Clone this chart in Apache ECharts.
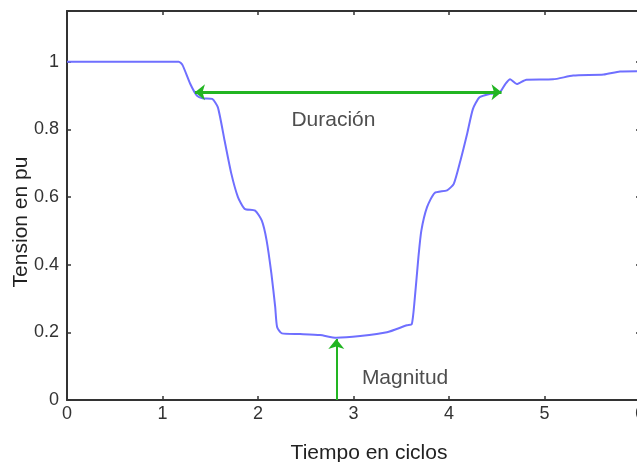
<!DOCTYPE html>
<html>
<head>
<meta charset="utf-8">
<script src="https://cdn.jsdelivr.net/npm/echarts@6/dist/echarts.min.js"></script>
<style>html,body{margin:0;padding:0;background:#fff;overflow:hidden}#c{width:637px;height:462px}</style>
</head>
<body>
<div id="c"></div>
<script>
// Data
const tiempo = [0, 1.17, 1.21, 1.29, 1.36, 1.42, 1.52, 1.58, 1.65, 1.72, 1.79, 1.86, 1.97, 2.04, 2.09, 2.14, 2.18, 2.20, 2.25, 2.44, 2.65, 2.82, 3.07, 3.35, 3.56, 3.61, 3.64, 3.68, 3.71, 3.77, 3.85, 3.98, 4.05, 4.12, 4.19, 4.25, 4.32, 4.43, 4.53, 4.59, 4.64, 4.71, 4.81, 5.09, 5.30, 5.62, 5.79, 6.0];
const tension = [1.0, 1.0, 0.99, 0.935, 0.90, 0.892, 0.89, 0.865, 0.767, 0.67, 0.60, 0.565, 0.56, 0.53, 0.472, 0.374, 0.275, 0.216, 0.197, 0.195, 0.192, 0.184, 0.189, 0.20, 0.221, 0.224, 0.295, 0.423, 0.50, 0.57, 0.612, 0.62, 0.639, 0.708, 0.787, 0.86, 0.895, 0.905, 0.909, 0.934, 0.948, 0.934, 0.947, 0.948, 0.959, 0.962, 0.971, 0.972];
const xTicks = [0, 1, 2, 3, 4, 5, 6];
const yTicks = [0, 0.2, 0.4, 0.6, 0.8, 1];
const duracion = { x0: 1.34, x1: 4.55, y: 0.91, label: 'Duración', labelX: 2.79, labelY: 0.826 };
const magnitud = { x: 2.82, y0: 0, y1: 0.18, label: 'Magnitud', labelX: 3.54, labelY: 0.065 };

const chart = echarts.init(document.getElementById('c'));
const font = 'Liberation Sans, Arial, sans-serif';
const axisCol = '#333';
const baseAxis = {
  axisLine: { show: true, onZero: false, lineStyle: { color: axisCol, width: 2 } },
  axisTick: { show: true, inside: true, length: 4, lineStyle: { color: axisCol, width: 1.5 } },
  splitLine: { show: false }
};
chart.setOption({
  animation: false,
  grid: { left: 67, right: -3, top: 11, bottom: 62, containLabel: false, outerBoundsMode: 'none' },
  xAxis: [
    Object.assign({}, baseAxis, {
      type: 'value', min: 0, max: 6, interval: 1, position: 'bottom',
      axisLabel: { margin: 5, fontSize: 18, color: '#333', fontFamily: font,
        formatter: v => xTicks.includes(v) ? String(v) : '' },
      name: 'Tiempo en ciclos', nameLocation: 'middle', nameGap: 43, nameMoveOverlap: false,
      nameTextStyle: { fontSize: 21, color: '#222', fontFamily: font, padding: [0, 0, 0, 31] }
    }),
    Object.assign({}, baseAxis, {
      type: 'value', min: 0, max: 6, interval: 1, position: 'top',
      axisLabel: { show: false }
    })
  ],
  yAxis: [
    Object.assign({}, baseAxis, {
      type: 'value', min: 0, max: 1.15, interval: 0.2, position: 'left',
      axisLabel: { margin: 8, fontSize: 18, color: '#333', fontFamily: font,
        formatter: v => { const r = Math.round(v * 10) / 10; return yTicks.includes(r) ? String(r) : ''; } },
      name: 'Tension en pu', nameLocation: 'middle', nameGap: 35, nameRotate: 90, nameMoveOverlap: false,
      nameTextStyle: { fontSize: 21, color: '#222', fontFamily: font, padding: [0, 0, 0, -33] }
    }),
    Object.assign({}, baseAxis, {
      type: 'value', min: 0, max: 1.15, interval: 0.2, position: 'right',
      axisLabel: { show: false }
    })
  ],
  series: [
    {
      type: 'line', xAxisIndex: 0, yAxisIndex: 0, showSymbol: false, smooth: 0.2,
      data: tiempo.map((t, i) => [t, tension[i]]),
      lineStyle: { color: '#6f6fff', width: 2 }, z: 3
    },
    {
      type: 'line', xAxisIndex: 0, yAxisIndex: 0, showSymbol: false, data: [],
      markLine: {
        silent: true, animation: false,
        label: { show: false },
        data: [
          [{ coord: [duracion.x0, duracion.y], symbol: 'arrow' }, { coord: [duracion.x1, duracion.y], symbol: 'arrow' }],
          [{ coord: [magnitud.x, magnitud.y0], symbol: 'none', lineStyle: { width: 2 } }, { coord: [magnitud.x, magnitud.y1], symbol: 'arrow' }]
        ],
        symbolSize: [12, 10],
        lineStyle: { color: '#22b522', width: 3, type: 'solid' }
      },
      z: 4
    },
    {
      type: 'scatter', xAxisIndex: 0, yAxisIndex: 0, symbolSize: 0,
      data: [
        { value: [duracion.labelX, duracion.labelY], name: duracion.label },
        { value: [magnitud.labelX, magnitud.labelY], name: magnitud.label }
      ],
      label: { show: true, position: 'inside', formatter: p => p.name, fontSize: 21, color: '#222', fontFamily: font },
      silent: true
    }
  ]
});
</script>
</body>
</html>
